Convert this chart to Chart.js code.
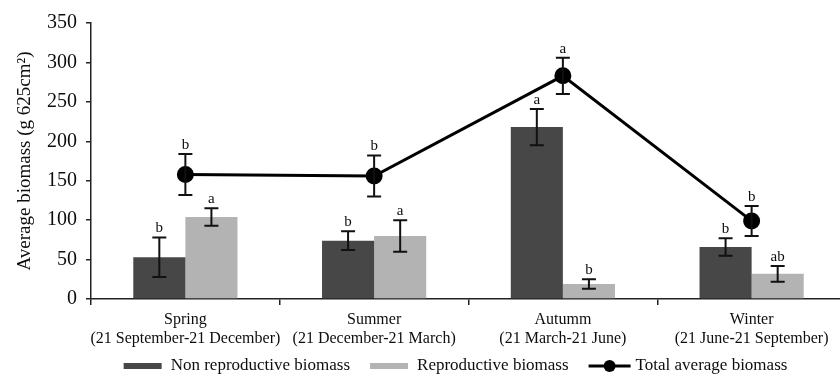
<!DOCTYPE html>
<html>
<head>
<meta charset="utf-8">
<title>Average biomass by season</title>
<script src="https://cdn.jsdelivr.net/npm/chart.js@4/dist/chart.umd.min.js"></script>
<style>
  html, body { margin: 0; padding: 0; background: #fff; overflow: hidden; }
  #caja { position: relative; width: 856px; height: 377px; }
</style>
</head>
<body>
<div id="caja"><canvas id="grafico"></canvas></div>
<script>
// Datos
const estaciones = [
  ['Spring', '(21 September-21 December)'],
  ['Summer', '(21 December-21 March)'],
  ['Autumm', '(21 March-21 June)'],
  ['Winter', '(21 June-21 September)'],
];
const biomasaNoReproductiva = [53, 74, 218, 66];
const errorNoReproductiva = [25, 12, 23, 11];
const letrasNoReproductiva = ['b', 'b', 'a', 'b'];

const biomasaReproductiva = [104, 80, 19, 32];
const errorReproductiva = [11, 20, 6, 10];
const letrasReproductiva = ['a', 'a', 'b', 'ab'];

const biomasaTotal = [158, 156, 283, 99];
const errorTotal = [26, 26, 23, 19];
const letrasTotal = ['b', 'b', 'a', 'b'];

const yMin = 0;
const yMax = 350;
const yPaso = 50;

const FUENTE = "'Liberation Serif', 'Times New Roman', serif";
const GRIS_OSCURO = '#474747';
const GRIS_CLARO = '#b3b3b3';
const TEXTO = '#0d0d0d';

// barras de error + letras de significancia
const pluginErrores = {
  id: 'errores',
  afterDatasetsDraw(chart) {
    const { ctx } = chart;
    const y = chart.scales.y;
    chart.data.datasets.forEach((ds, i) => {
      const meta = chart.getDatasetMeta(i);
      meta.data.forEach((el, j) => {
        const v = ds.data[j];
        const e = ds.errores[j];
        const arriba = y.getPixelForValue(v + e);
        const abajo = y.getPixelForValue(v - e);
        const x = el.x;
        ctx.save();
        ctx.strokeStyle = '#111';
        ctx.lineWidth = 2;
        ctx.beginPath();
        ctx.moveTo(x, arriba); ctx.lineTo(x, abajo);
        ctx.moveTo(x - 7, arriba); ctx.lineTo(x + 7, arriba);
        ctx.moveTo(x - 7, abajo); ctx.lineTo(x + 7, abajo);
        ctx.stroke();
        ctx.fillStyle = TEXTO;
        ctx.font = `15px ${FUENTE}`;
        ctx.textAlign = 'center';
        ctx.textBaseline = 'alphabetic';
        ctx.fillText(ds.letras[j], x, arriba - 5);
        ctx.restore();
      });
    });
  },
};

// leyenda dibujada a mano (muestras anchas como en la figura)
const pluginLeyenda = {
  id: 'leyendaPropia',
  afterDraw(chart) {
    const { ctx } = chart;
    const yc = 366;
    ctx.save();
    ctx.font = `17px ${FUENTE}`;
    ctx.textBaseline = 'middle';
    ctx.fillStyle = TEXTO;
    const items = chart.data.datasets.map((ds) => ({
      texto: ds.label,
      tipo: ds.type || 'bar',
      color: ds.backgroundColor,
      ancho: ctx.measureText(ds.label).width,
    }));
    const muestra = 38;
    const total = items.reduce((acc, it) => acc + muestra + 8 + it.ancho, 0) + 20 * (items.length - 1);
    let x = 454 - total / 2;
    items.forEach((it) => {
      if (it.tipo === 'line') {
        ctx.strokeStyle = '#000';
        ctx.lineWidth = 3;
        ctx.beginPath();
        ctx.moveTo(x, yc); ctx.lineTo(x + muestra + 4, yc);
        ctx.stroke();
        ctx.fillStyle = '#000';
        ctx.beginPath();
        ctx.arc(x + (muestra + 4) / 2, yc, 6, 0, Math.PI * 2);
        ctx.fill();
        x += muestra + 4 + 5;
      } else {
        ctx.fillStyle = it.color;
        ctx.fillRect(x, yc - 3, muestra, 6);
        x += muestra + 9;
      }
      ctx.fillStyle = TEXTO;
      ctx.fillText(it.texto, x, yc);
      x += it.ancho + 20;
    });
    ctx.restore();
  },
};

new Chart(document.getElementById('grafico'), {
  type: 'bar',
  data: {
    labels: estaciones,
    datasets: [
      {
        label: 'Non reproductive biomass',
        data: biomasaNoReproductiva,
        errores: errorNoReproductiva,
        letras: letrasNoReproductiva,
        backgroundColor: GRIS_OSCURO,
        barPercentage: 1,
        categoryPercentage: 0.552,
        order: 2,
      },
      {
        label: 'Reproductive biomass',
        data: biomasaReproductiva,
        errores: errorReproductiva,
        letras: letrasReproductiva,
        backgroundColor: GRIS_CLARO,
        barPercentage: 1,
        categoryPercentage: 0.552,
        order: 2,
      },
      {
        type: 'line',
        label: 'Total average biomass',
        data: biomasaTotal,
        errores: errorTotal,
        letras: letrasTotal,
        borderColor: '#000',
        backgroundColor: '#000',
        borderWidth: 3,
        pointRadius: 7,
        pointBackgroundColor: '#000',
        pointBorderColor: '#000',
        tension: 0,
        order: 1,
      },
    ],
  },
  options: {
    responsive: true,
    maintainAspectRatio: false,
    animation: false,
    devicePixelRatio: 1,
    layout: { padding: { top: 23, right: 2, bottom: 28, left: 0 } },
    plugins: {
      legend: { display: false },
      tooltip: { enabled: false },
    },
    scales: {
      x: {
        offset: true,
        grid: { display: true, offset: true, drawOnChartArea: false, drawTicks: true, tickLength: 6, color: '#222', lineWidth: 1.5 },
        border: { display: true, color: '#222', width: 1.5 },
        ticks: { color: TEXTO, font: { family: FUENTE, size: 16, lineHeight: 1.2 }, padding: 5, maxRotation: 0, autoSkip: false },
        afterFit(scale) { scale.height = 50; },
      },
      y: {
        min: yMin,
        max: yMax,
        ticks: { stepSize: yPaso, color: TEXTO, font: { family: FUENTE, size: 20 }, padding: 9 },
        grid: { display: true, drawOnChartArea: false, drawTicks: true, tickLength: 5, color: '#222', lineWidth: 1.5 },
        border: { display: true, color: '#222', width: 1.5 },
        title: {
          display: true,
          text: 'Average biomass (g 625cm²)',
          color: TEXTO,
          font: { family: FUENTE, size: 19 },
          padding: { top: 14, bottom: 0 },
        },
        afterFit(scale) { scale.width = 91; },
      },
    },
  },
  plugins: [pluginErrores, pluginLeyenda],
});
</script>
</body>
</html>
